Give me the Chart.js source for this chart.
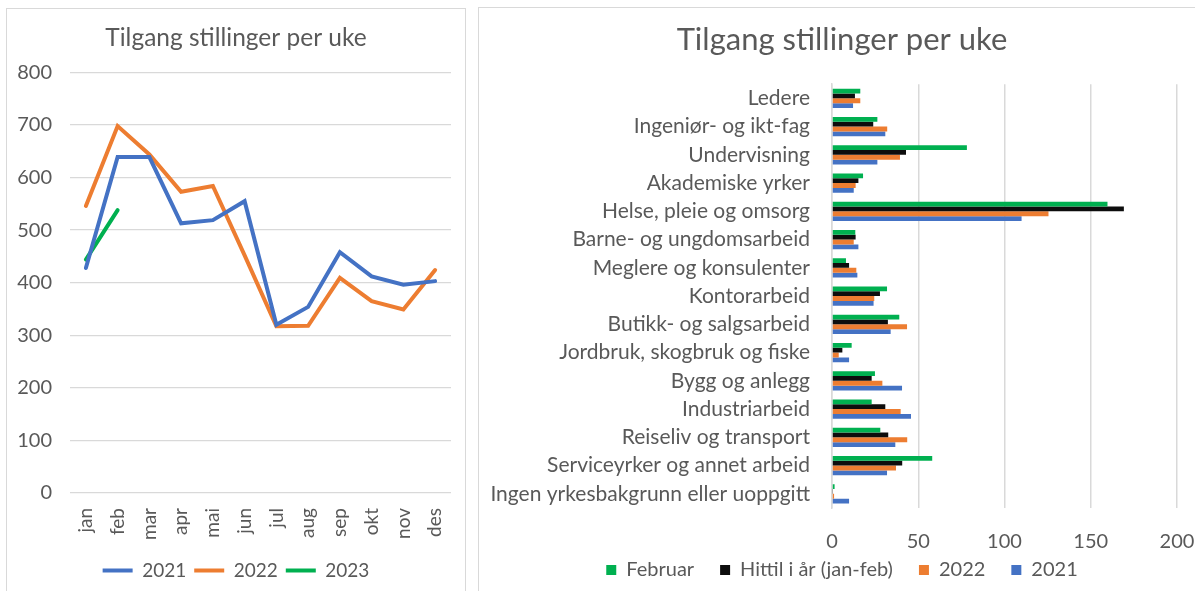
<!DOCTYPE html>
<html>
<head>
<meta charset="utf-8">
<script src="https://cdn.jsdelivr.net/npm/chart.js@4/dist/chart.umd.min.js"></script>
<style>
  body { margin: 0; background: #fff; width: 1195px; height: 591px; overflow: hidden; position: relative; }
  .panel { position: absolute; border: 1px solid #d9d9d9; background: #fff; overflow: hidden; }
  #leftPanel { left: 6px; top: 8px; width: 458px; height: 610px; }
  #rightPanel { left: 478px; top: 7px; width: 730px; height: 610px; }
  canvas { position: absolute; left: 0; top: 0; }
</style>
</head>
<body>
<div class="panel" id="leftPanel"><canvas id="lineChart" width="458" height="583"></canvas></div>
<div class="panel" id="rightPanel"><canvas id="barChart" width="726" height="602"></canvas></div>
<script>
// line chart data
const months = ['jan', 'feb', 'mar', 'apr', 'mai', 'jun', 'jul', 'aug', 'sep', 'okt', 'nov', 'des'];
const weekly2021 = [428, 639, 639, 513, 519, 555, 320, 354, 458, 412, 396, 403];
const weekly2022 = [546, 698, 644, 573, 584, 452, 317, 318, 409, 365, 349, 424];
const weekly2023 = [444, 538];
const lineTicks = [0, 100, 200, 300, 400, 500, 600, 700, 800];

// bar chart data
const occupations = [
    'Ledere', 'Ingeniør- og ikt-fag', 'Undervisning', 'Akademiske yrker',
    'Helse, pleie og omsorg', 'Barne- og ungdomsarbeid', 'Meglere og konsulenter',
    'Kontorarbeid', 'Butikk- og salgsarbeid', 'Jordbruk, skogbruk og fiske',
    'Bygg og anlegg', 'Industriarbeid', 'Reiseliv og transport',
    'Serviceyrker og annet arbeid', 'Ingen yrkesbakgrunn eller uoppgitt'
];
const februar = [16.4, 26.3, 78.2, 18, 159.7, 13.5, 8.1, 31.9, 39, 11.4, 24.9, 23, 28, 58.1, 1.5];
const hittil = [13.3, 23.9, 42.9, 15.3, 169.2, 13.7, 9.9, 27.8, 32.4, 6, 23, 30.9, 32.6, 40.7, 0.3];
const year2022 = [16.4, 32, 39.4, 13.7, 125.5, 12.6, 14.1, 24.5, 43.5, 3.9, 29.2, 39.8, 43.6, 37.1, 1.2];
const year2021 = [12.2, 30.9, 26.3, 12.6, 109.9, 15.3, 14.7, 24.1, 34, 9.9, 40.6, 45.8, 36.7, 31.9, 9.9];
const barTicks = [0, 50, 100, 150, 200];

const textColor = '#595959';
const gridColor = '#d9d9d9';
const fontFamily = 'Lato, "Open Sans", sans-serif';
const blue = '#4472C4';
const orange = '#ED7D31';
const green = '#00B050';

Chart.defaults.font.family = fontFamily;
Chart.defaults.color = textColor;
Chart.defaults.animation = false;

// pulls the legend up closer to the axis labels, keeping the wide item spacing
const raiseLegend = {
    id: 'raiseLegend',
    afterLayout(chart, args, opts) {
        if (!opts.by) return;
        chart.legend.top -= opts.by;
        chart.legend.bottom -= opts.by;
    }
};

function lineSet(label, data, color) {
    return {
        label: label,
        data: data,
        borderColor: color,
        backgroundColor: color,
        borderWidth: 4,
        borderCapStyle: 'round',
        borderJoinStyle: 'miter',
        pointRadius: 0,
        tension: 0,
        fill: false
    };
}

// Left: line chart
new Chart(document.getElementById('lineChart'), {
    type: 'line',
    data: {
        labels: months,
        datasets: [
            lineSet('2021', weekly2021, blue),
            lineSet('2022', weekly2022, orange),
            lineSet('2023', weekly2023, green)
        ]
    },
    options: {
        responsive: false,
        layout: { padding: { left: 0, right: 0, top: 0, bottom: 2 } },
        plugins: {
            title: {
                display: true,
                text: 'Tilgang stillinger per uke',
                color: textColor,
                font: { size: 24.5, weight: 'normal' },
                padding: { top: 14, bottom: 20 }
            },
            legend: {
                position: 'bottom',
                labels: {
                    usePointStyle: true,
                    pointStyle: 'line',
                    pointStyleWidth: 30,
                    color: textColor,
                    font: { size: 19 },
                    padding: 8
                }
            },
            tooltip: { enabled: false }
        },
        scales: {
            y: {
                min: 0,
                max: 800,
                afterBuildTicks: function (scale) {
                    scale.ticks = lineTicks.map(v => ({ value: v }));
                },
                afterFit: function (scale) { scale.width = 63; },
                border: { display: false },
                grid: { color: gridColor, lineWidth: 1.3, drawTicks: false },
                ticks: { padding: 18, font: { size: 20 }, color: textColor }
            },
            x: {
                offset: true,
                afterFit: function (scale) {
                    scale.height = 60;
                    scale.paddingLeft = 0;
                    scale.paddingRight = 14;
                },
                border: { display: false },
                grid: { display: false, drawTicks: false },
                ticks: { minRotation: 90, maxRotation: 90, padding: 15, font: { size: 19 }, color: textColor }
            }
        }
    }
});

function barSet(label, data, color) {
    return {
        label: label,
        data: data,
        backgroundColor: color,
        borderWidth: 0,
        categoryPercentage: 0.68,
        barPercentage: 1
    };
}

// Right: horizontal bar chart
new Chart(document.getElementById('barChart'), {
    type: 'bar',
    plugins: [raiseLegend],
    data: {
        labels: occupations,
        datasets: [
            barSet('Februar', februar, green),
            barSet('Hittil i år (jan-feb)', hittil, '#0d0d0d'),
            barSet('2022', year2022, orange),
            barSet('2021', year2021, blue)
        ]
    },
    options: {
        indexAxis: 'y',
        responsive: false,
        layout: { padding: { left: 0, right: 0, top: 0, bottom: 0 } },
        plugins: {
            title: {
                display: true,
                text: 'Tilgang stillinger per uke',
                color: textColor,
                font: { size: 31, weight: 'normal' },
                padding: { top: 13, bottom: 26 }
            },
            legend: {
                position: 'bottom',
                labels: {
                    boxWidth: 10,
                    boxHeight: 10,
                    color: textColor,
                    font: { size: 20 },
                    padding: 26
                }
            },
            raiseLegend: { by: 20 },
            tooltip: { enabled: false }
        },
        scales: {
            x: {
                min: 0,
                max: 200,
                afterBuildTicks: function (scale) {
                    scale.ticks = barTicks.map(v => ({ value: v }));
                },
                afterFit: function (scale) {
                    scale.height = 46;
                    scale.paddingLeft = 0;
                    scale.paddingRight = 28;
                },
                border: { display: false },
                grid: { color: gridColor, lineWidth: 1.5, drawTicks: false },
                ticks: { padding: 22, font: { size: 20 }, color: textColor }
            },
            y: {
                afterFit: function (scale) { scale.width = 353; },
                border: { display: true, color: gridColor, width: 1.5 },
                grid: { display: false, drawTicks: false },
                ticks: { padding: 22, font: { size: 21 }, color: textColor, autoSkip: false }
            }
        }
    }
});
</script>
</body>
</html>
